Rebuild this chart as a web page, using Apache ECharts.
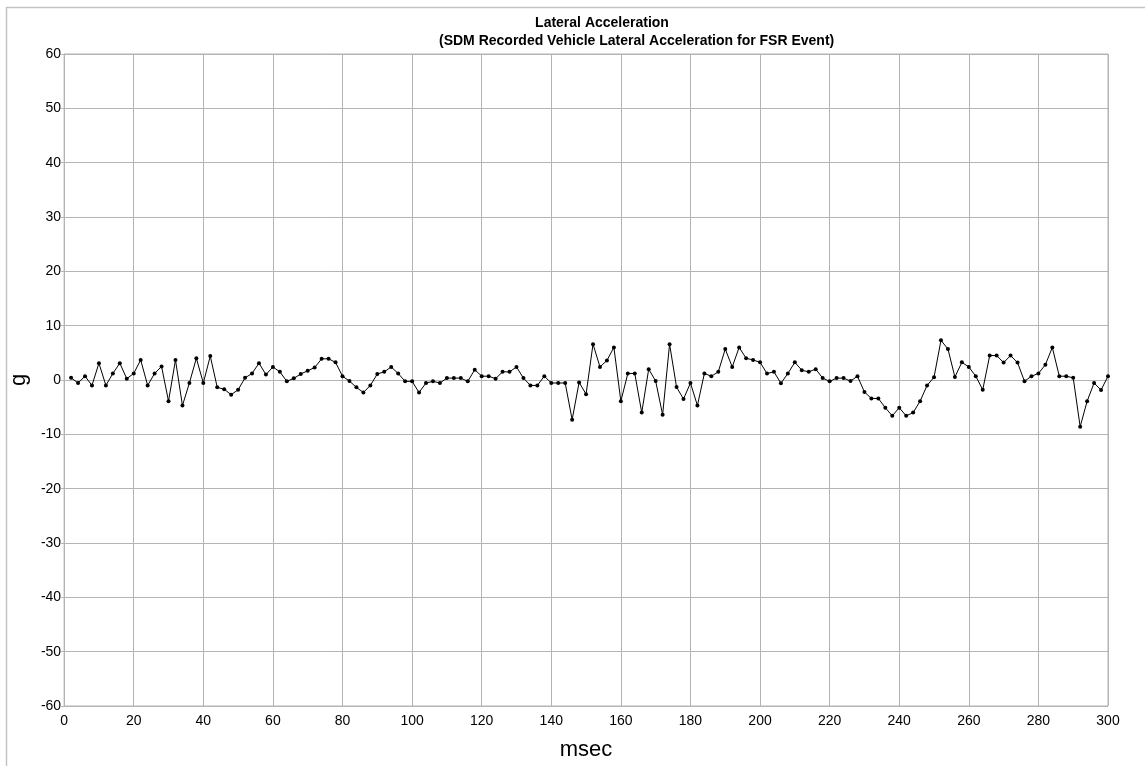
<!DOCTYPE html>
<html lang="en">
<head>
    <meta charset="UTF-8">
    <title>Lateral Acceleration</title>
    <script src="https://cdn.jsdelivr.net/npm/echarts@6.0.0/dist/echarts.min.js"></script>
    <style>
        html, body { margin: 0; padding: 0; background: #fff; }
    </style>
</head>
<body>
    <div id="chart" style="width: 1145px; height: 766px;"></div>

    <script>
        // sample times (msec)
        var tempos = [];
        for (var t = 2; t <= 300; t += 2) tempos.push(t);

        // lateral acceleration (g), one per 2 msec
        var acelA = [0.4, -0.55, 0.7, -1.0, 3.1, -1.0, 1.2, 3.1, 0.25, 1.2,
                     3.7, -1.0, 1.2, 2.5, -3.9, 3.7, -4.7, -0.55, 4.0, -0.55,
                     4.4, -1.35, -1.7, -2.7, -1.8];
        var acelB = [0.4, 1.2, 3.1, 1.0, 2.4, 1.5, -0.25, 0.3, 1.1, 1.7,
                     2.3, 3.9, 3.9, 3.25, 0.7, -0.2, -1.35, -2.3, -1.0, 1.1,
                     1.5, 2.4, 1.2, -0.25, -0.25];
        var acelC = [-2.3, -0.55, -0.25, -0.55, 0.35, 0.35, 0.35, -0.25, 1.9, 0.7,
                     0.7, 0.25, 1.5, 1.5, 2.4, 0.35, -1.0, -1.0, 0.7, -0.55,
                     -0.55, -0.55, -7.3, -0.45, -2.6];
        var acelD = [6.6, 2.4, 3.6, 6.0, -3.9, 1.2, 1.2, -6.0, 2.0, -0.2,
                     -6.4, 6.6, -1.3, -3.5, -0.55, -4.7, 1.2, 0.7, 1.5, 5.7,
                     2.4, 6.0, 4.0, 3.7, 3.25];
        var acelE = [1.2, 1.5, -0.6, 1.2, 3.25, 1.8, 1.5, 2.0, 0.35, -0.25,
                     0.35, 0.35, -0.2, 0.7, -2.2, -3.4, -3.4, -5.1, -6.6, -5.1,
                     -6.6, -6.0, -3.9, -1.0, 0.5];
        var acelF = [7.3, 5.7, 0.55, 3.25, 2.4, 0.7, -1.8, 4.5, 4.5, 3.2,
                     4.5, 3.2, -0.25, 0.7, 1.2, 2.8, 6.0, 0.7, 0.7, 0.4,
                     -8.6, -3.9, -0.55, -1.85, 0.7];
        var acel = acelA.concat(acelB, acelC, acelD, acelE, acelF);

        var pontos = tempos.map(function (t, i) { return [t, acel[i]]; });

        var titulo1 = 'Lateral Acceleration';
        var titulo2 = '(SDM Recorded Vehicle Lateral Acceleration for FSR Event)';

        var fonte = "'Liberation Sans', Arial, sans-serif";
        var cinza = '#b4b4b4';
        var estiloTitulo = {
            fontFamily: fonte,
            fontSize: 14,
            fontWeight: 'bold',
            lineHeight: 14,
            color: '#000'
        };

        var chart = echarts.init(document.getElementById('chart'));

        chart.setOption({
            animation: false,
            backgroundColor: '#ffffff',
            title: [{
                text: titulo1,
                left: 602,
                top: 16,
                textAlign: 'center',
                padding: 0,
                textStyle: estiloTitulo
            }, {
                text: titulo2,
                left: 439,
                top: 34,
                padding: 0,
                textStyle: estiloTitulo
            }],
            grid: {
                left: 64,
                right: 37,
                top: 54,
                bottom: 51,
                show: true,
                borderColor: cinza,
                borderWidth: 1
            },
            xAxis: {
                type: 'value',
                min: 0,
                max: 300,
                interval: 20,
                name: 'msec',
                nameLocation: 'middle',
                nameGap: 33,
                nameTextStyle: { fontFamily: fonte, fontSize: 22, color: '#000' },
                axisLine: { lineStyle: { color: cinza } },
                axisTick: { show: true, length: 4, lineStyle: { color: cinza } },
                axisLabel: { fontFamily: fonte, fontSize: 14, color: '#000', margin: 8 },
                splitLine: { show: true, lineStyle: { color: cinza, width: 1 } }
            },
            yAxis: {
                type: 'value',
                min: -60,
                max: 60,
                interval: 10,
                name: 'g',
                nameLocation: 'middle',
                nameGap: 25,
                nameTextStyle: { fontFamily: fonte, fontSize: 22, color: '#000' },
                axisLine: { show: true, lineStyle: { color: cinza } },
                axisTick: { show: true, length: 3, lineStyle: { color: cinza } },
                axisLabel: { fontFamily: fonte, fontSize: 14, color: '#000', margin: 3 },
                splitLine: { show: true, lineStyle: { color: cinza, width: 1 } }
            },
            graphic: [
                { type: 'line', shape: { x1: 6, y1: 7.5, x2: 1145, y2: 7.5 }, style: { stroke: '#c4c4c4', lineWidth: 1.5 }, silent: true },
                { type: 'line', shape: { x1: 6.5, y1: 7, x2: 6.5, y2: 766 }, style: { stroke: '#c4c4c4', lineWidth: 1.5 }, silent: true }
            ],
            series: [{
                type: 'line',
                data: pontos,
                symbol: 'circle',
                symbolSize: 4,
                itemStyle: { color: '#000' },
                lineStyle: { color: '#000', width: 1 }
            }]
        });
    </script>
</body>
</html>
